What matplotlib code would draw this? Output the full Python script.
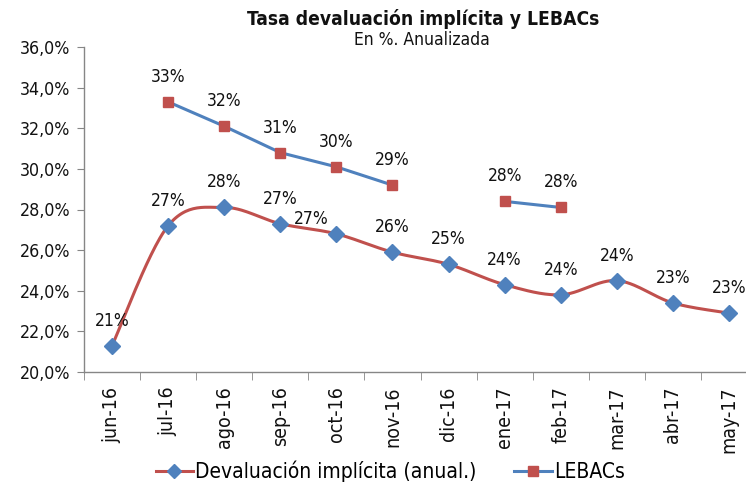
import numpy as np
import matplotlib
matplotlib.use("Agg")
import matplotlib.pyplot as plt
from matplotlib.ticker import FuncFormatter
from matplotlib.lines import Line2D

categories = ["jun-16", "jul-16", "ago-16", "sep-16", "oct-16", "nov-16",
              "dic-16", "ene-17", "feb-17", "mar-17", "abr-17", "may-17"]
devaluacion = [21.3, 27.2, 28.1, 27.3, 26.8, 25.9, 25.3, 24.3, 23.8, 24.5, 23.4, 22.9]
lebacs = [np.nan, 33.3, 32.1, 30.8, 30.1, 29.2, np.nan, 28.4, 28.1, np.nan, np.nan, np.nan]

plt.rcParams['font.family'] = ['DejaVu Sans']
plt.rcParams['font.stretch'] = 'condensed'

RED = "#C0504D"
BLUE = "#4F81BD"
GRAY = "#868686"
TXT = "#111111"

fig = plt.figure(figsize=(7.46, 4.82), dpi=100)
ax = fig.add_axes([84/746, 1-372/482, (757-84)/746, (372-47)/482])

x = np.arange(len(categories))
y = np.array(devaluacion)

# Excel-like smoothed line (cardinal Bezier through the points)
def smooth(xs, ys, n=30):
    px, py = [], []
    N = len(xs)
    for i in range(N - 1):
        p0 = np.array([xs[max(i-1, 0)], ys[max(i-1, 0)]])
        p1 = np.array([xs[i], ys[i]])
        p2 = np.array([xs[i+1], ys[i+1]])
        p3 = np.array([xs[min(i+2, N-1)], ys[min(i+2, N-1)]])
        c1 = p1 + (p2 - p0) / 6
        c2 = p2 - (p3 - p1) / 6
        t = np.linspace(0, 1, n)[:, None]
        b = ((1-t)**3) * p1 + 3*((1-t)**2)*t*c1 + 3*(1-t)*t**2*c2 + t**3*p2
        px.extend(b[:, 0]); py.extend(b[:, 1])
    return np.array(px), np.array(py)

sx, sy = smooth(x, y)
ax.plot(sx, sy, color=RED, lw=2.2, zorder=2)
ax.plot(x, y, ls="none", marker="D", ms=8, color=BLUE, zorder=3)

lb = np.array(lebacs)
ax.plot(x, lb, color=BLUE, lw=2.2, zorder=2)
ax.plot(x, lb, ls="none", marker="s", ms=7, color=RED, zorder=3)

LBL = 12.5
for i, v in enumerate(devaluacion):
    dx, dy = 0, 18
    if categories[i] == "oct-16":
        dx, dy = -18, 11
    ax.annotate(f"{v:.0f}%", (i, v), xytext=(dx, dy), textcoords="offset points",
                ha="center", va="center", fontsize=LBL, color=TXT)
for i, v in enumerate(lebacs):
    if np.isnan(v):
        continue
    ax.annotate(f"{v:.0f}%", (i, v), xytext=(0, 18), textcoords="offset points",
                ha="center", va="center", fontsize=LBL, color=TXT)

ax.set_xlim(-0.5, len(categories) - 0.5)
ax.set_ylim(20, 36)
ax.set_yticks(np.arange(20, 36.1, 2))
ax.yaxis.set_major_formatter(FuncFormatter(lambda v, p: f"{v:.1f}%".replace(".", ",")))
ax.set_xticks(x)
ax.set_xticklabels(categories, rotation=90, fontsize=14)
ax.set_xticks(np.arange(-0.5, len(categories), 1), minor=True)
ax.tick_params(axis="x", which="major", length=0, pad=10.5, colors=TXT)
ax.tick_params(axis="x", which="minor", length=6, color=GRAY)
ax.tick_params(axis="y", length=5, color=GRAY, labelsize=12.8, labelcolor=TXT, pad=5)

for s in ["top", "right"]:
    ax.spines[s].set_visible(False)
for s in ["left", "bottom"]:
    ax.spines[s].set_color(GRAY)
    ax.spines[s].set_linewidth(1)

fig.text(0.567, 0.961, "Tasa devaluación implícita y LEBACs", ha="center", va="center",
         fontsize=13.75, fontweight="bold", color=TXT)
fig.text(0.566, 0.916, "En %. Anualizada", ha="center", va="center",
         fontsize=12.5, color=TXT)

h1 = Line2D([], [], color=RED, lw=2.2, marker="D", ms=7, mfc=BLUE, mec=BLUE)
h2 = Line2D([], [], color=BLUE, lw=2.2, marker="s", ms=7, mfc=RED, mec=RED)
fig.legend([h1, h2], ["Devaluación implícita (anual.)", "LEBACs"], loc="center",
           bbox_to_anchor=(0.523, 0.022), ncol=2, frameon=False, fontsize=15,
           handlelength=1.8, handletextpad=0.1, columnspacing=1.8)

fig.savefig("out.png", dpi=100)
